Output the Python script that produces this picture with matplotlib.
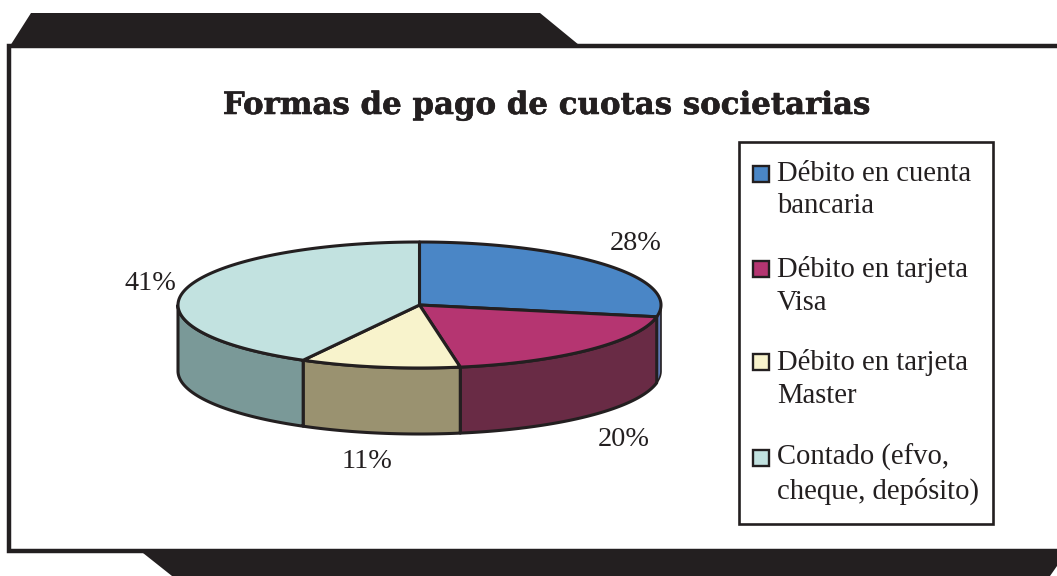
import numpy as np
import matplotlib
matplotlib.use("Agg")
import matplotlib.pyplot as plt
import matplotlib.patheffects as pe
from matplotlib.patches import Polygon, Rectangle

# Data
title = "Formas de pago de cuotas societarias"
categories = ["Débito en cuenta\nbancaria", "Débito en tarjeta\nVisa",
              "Débito en tarjeta\nMaster", "Contado (efvo,\ncheque, depósito)"]
pct_labels = ["28%", "20%", "11%", "41%"]
slice_extent = [28.0, 19.3, 10.7, 42.0]   # apparent share of the drawn ellipse
top_colors = ["#4A86C6", "#B53571", "#F8F3CC", "#C2E2E0"]
side_colors = ["#5F78B5", "#692B45", "#9A9270", "#7A9998"]
label_xy = [(636, 244), (624, 440), (367, 461), (150, 284)]
swatch_y = [173.5, 269, 361.5, 457.5]
text_y = [190, 286, 379, 474.5]

INK = "#231F20"
W, H = 1057, 576
fig = plt.figure(figsize=(W / 100, H / 100), dpi=100)
ax = fig.add_axes([0, 0, 1, 1])
ax.set_xlim(0, W)
ax.set_ylim(H, 0)
ax.axis("off")

# Frame and tabs
ax.add_patch(Polygon([(10, 46), (31, 13), (540, 13), (579, 45), (579, 48), (10, 48)],
                     closed=True, fc=INK, ec="none"))
ax.add_patch(Rectangle((9, 46), W, 505, fc="white", ec=INK, lw=3.2))
ax.add_patch(Polygon([(143, 553), (172, 576), (1050, 576), (1057, 566), (1057, 549), (143, 549)],
                     closed=True, fc=INK, ec="none"))

# 3-D pie
cx, cy, rx, ry, depth = 419.5, 305, 241.5, 63, 66
edges = np.concatenate([[0], np.cumsum(slice_extent)]) / np.sum(slice_extent) * 2 * np.pi


def rim(a0, a1, dy=0.0, n=120):
    t = np.linspace(a0, a1, n)
    return np.column_stack([cx + rx * np.sin(t), cy - ry * np.cos(t) + dy])


lw = 2.2
for i in range(4):
    a0, a1 = max(edges[i], np.pi / 2), min(edges[i + 1], 3 * np.pi / 2)
    if a1 > a0:
        pts = np.vstack([rim(a0, a1), rim(a0, a1, depth)[::-1]])
        ax.add_patch(Polygon(pts, closed=True, fc=side_colors[i], ec=INK,
                             lw=lw if i else 1.2, joinstyle="round"))
for i in range(4):
    pts = np.vstack([[(cx, cy)], rim(edges[i], edges[i + 1])])
    ax.add_patch(Polygon(pts, closed=True, fc=top_colors[i], ec=INK, lw=lw, joinstyle="round"))

serif = "Liberation Serif"
for (x, y), s in zip(label_xy, pct_labels):
    ax.text(x, y, s, ha="center", va="center", family=serif, fontsize=20.3, color=INK)

ax.text(547, 105.5, title, ha="center", va="center", family="DejaVu Serif",
        fontweight="bold", fontsize=22.2, color=INK,
        path_effects=[pe.withStroke(linewidth=0.4, foreground=INK)])

# Legend
ax.add_patch(Rectangle((739, 142), 253.5, 382, fc="white", ec=INK, lw=1.9))
for i, lab in enumerate(categories):
    ax.add_patch(Rectangle((752.5, swatch_y[i] - 8), 16, 16, fc=top_colors[i], ec=INK, lw=1.7))
    ax.text(777, text_y[i], lab, ha="left", va="center", family=serif, fontsize=20.6,
            color=INK, linespacing=1.34)

fig.savefig("out.png", dpi=100)
